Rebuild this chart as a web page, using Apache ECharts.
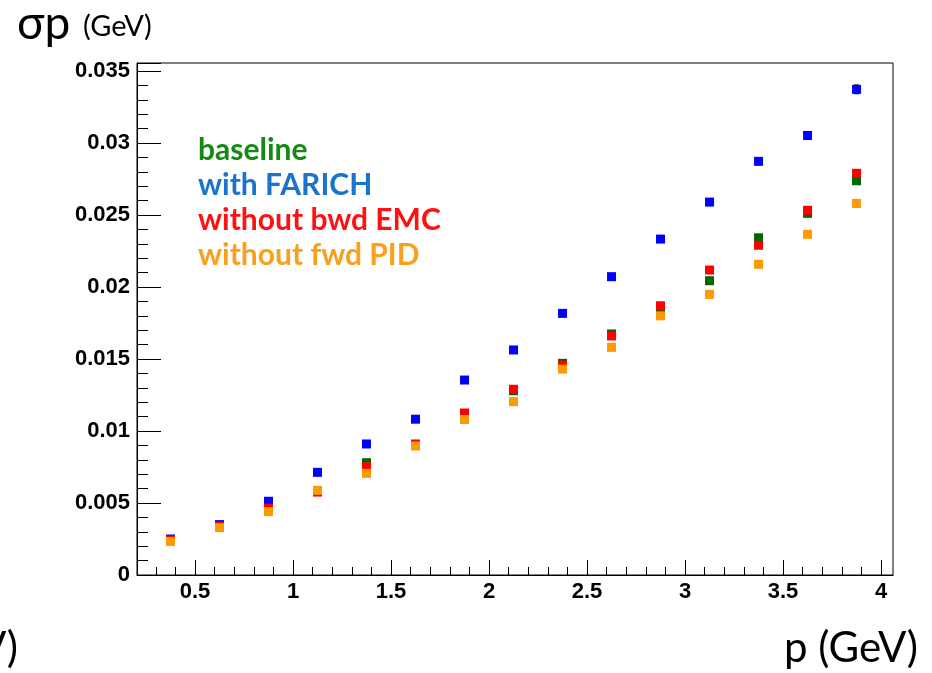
<!DOCTYPE html>
<html>
<head>
<meta charset="utf-8">
<title>Momentum resolution</title>
<script src="https://cdn.jsdelivr.net/npm/echarts@6/dist/echarts.min.js"></script>
<style>
  html, body { margin: 0; padding: 0; background: #fff; }
  #chart { width: 932px; height: 673px; }
</style>
</head>
<body>
<div id="chart"></div>
<script>
// Bin centres of the momentum bins (GeV)
const pMomentum = [0.375, 0.625, 0.875, 1.125, 1.375, 1.625, 1.875, 2.125,
                   2.375, 2.625, 2.875, 3.125, 3.375, 3.625, 3.875];

// Momentum resolution sigma_p (GeV) for each detector configuration
const baseline = [0.0024, 0.0034, 0.0045, 0.0058, 0.0078, 0.0090, 0.0111, 0.0128,
                  0.0147, 0.01674, 0.0184, 0.02044, 0.02342, 0.02512, 0.02738];
const withFarich = [0.0025, 0.0035, 0.00512, 0.00713, 0.0091, 0.01082, 0.01354, 0.01563,
                    0.01817, 0.02072, 0.02333, 0.0259, 0.02873, 0.03053, 0.03373];
const withoutBwdEmc = [0.00243, 0.0034, 0.00465, 0.00576, 0.00752, 0.0091, 0.01125, 0.0129,
                       0.01458, 0.0166, 0.0187, 0.02118, 0.0229, 0.02533, 0.0279];
const withoutFwdPid = [0.00233, 0.00329, 0.0044, 0.00588, 0.00706, 0.00896, 0.0108, 0.01204,
                       0.0143, 0.01581, 0.018, 0.01949, 0.02158, 0.02366, 0.02581];

// Statistical uncertainties on sigma_p (GeV)
const errBaseline = [0.00004, 0.00005, 0.00006, 0.00007, 0.00008, 0.00009, 0.0001, 0.00011,
                     0.00012, 0.00014, 0.00016, 0.00018, 0.0002, 0.00022, 0.00025];
const errFarich = [0.00004, 0.00005, 0.00006, 0.00007, 0.00009, 0.0001, 0.00011, 0.00012,
                   0.00014, 0.00016, 0.00018, 0.0002, 0.00022, 0.00026, 0.0003];
const errBwdEmc = [0.00004, 0.00005, 0.00006, 0.00007, 0.00008, 0.00009, 0.0001, 0.00011,
                   0.00012, 0.00014, 0.00016, 0.00018, 0.0002, 0.00022, 0.00025];
const errFwdPid = [0.00004, 0.00005, 0.00006, 0.00007, 0.00008, 0.00009, 0.0001, 0.00011,
                   0.00012, 0.00013, 0.00015, 0.00017, 0.00019, 0.00021, 0.00024];

const seriesNames = ['baseline', 'with FARICH', 'without bwd EMC', 'without fwd PID'];

// Axis tick positions
const xMajorTicks = [0.5, 1, 1.5, 2, 2.5, 3, 3.5, 4];
const xMinorTicks = [0.3, 0.4, 0.6, 0.7, 0.8, 0.9, 1.1, 1.2, 1.3, 1.4, 1.6, 1.7, 1.8, 1.9,
                     2.1, 2.2, 2.3, 2.4, 2.6, 2.7, 2.8, 2.9, 3.1, 3.2, 3.3, 3.4,
                     3.6, 3.7, 3.8, 3.9];

const markerColors = ['#006600', '#0000ff', '#ff0000', '#ff9900'];
const legendColors = ['#148a14', '#1874cd', '#ff1111', '#f7a11c'];

const allValues = [baseline, withFarich, withoutBwdEmc, withoutFwdPid];
const allErrors = [errBaseline, errFarich, errBwdEmc, errFwdPid];

const X_MIN = 0.204, X_MAX = 4.061;
const Y_MAX = 0.03556;

const chart = echarts.init(document.getElementById('chart'), null, { renderer: 'canvas' });

function errorBarSeries(values, errors, idx) {
  return {
    type: 'custom',
    name: seriesNames[idx] + ' err',
    xAxisIndex: 0,
    yAxisIndex: 0,
    z: 2,
    silent: true,
    data: pMomentum.map((p, i) => [p, values[i] - errors[i], values[i] + errors[i]]),
    renderItem: function (params, api) {
      const lo = api.coord([api.value(0), api.value(1)]);
      const hi = api.coord([api.value(0), api.value(2)]);
      const cap = 2.5;
      const style = { stroke: '#000', lineWidth: 1.2 };
      return {
        type: 'group',
        children: [
          { type: 'line', shape: { x1: lo[0], y1: lo[1], x2: hi[0], y2: hi[1] }, style: style },
          { type: 'line', shape: { x1: lo[0] - cap, y1: lo[1], x2: lo[0] + cap, y2: lo[1] }, style: style },
          { type: 'line', shape: { x1: hi[0] - cap, y1: hi[1], x2: hi[0] + cap, y2: hi[1] }, style: style }
        ]
      };
    }
  };
}

const series = [];
allValues.forEach((vals, k) => {
  series.push(errorBarSeries(vals, allErrors[k], k));
});
allValues.forEach((vals, k) => {
  series.push({
    type: 'scatter',
    name: seriesNames[k],
    xAxisIndex: 0,
    yAxisIndex: 0,
    z: 3 + k,
    symbol: 'rect',
    symbolSize: 9,
    itemStyle: { color: markerColors[k], opacity: 1 },
    emphasis: { disabled: true },
    data: pMomentum.map((p, i) => [p, vals[i]])
  });
});

const labelFont = {
  color: '#000',
  fontFamily: 'Liberation Sans, Arial, sans-serif',
  fontWeight: 'bold',
  fontSize: 22
};

const legendTexts = seriesNames.map((name, k) => ({
  type: 'text',
  left: 198,
  top: 135 + k * 35,
  style: {
    text: name,
    fill: legendColors[k],
    font: 'bold 30px Lato, "Open Sans", sans-serif'
  }
}));

const option = {
  animation: false,
  backgroundColor: '#ffffff',
  grid: {
    left: 137, right: 39, top: 63, bottom: 98,
    show: true,
    borderColor: '#000',
    borderWidth: 1,
    backgroundColor: 'transparent'
  },
  xAxis: [
    {
      type: 'value',
      min: X_MIN, max: X_MAX,
      position: 'bottom',
      axisLine: { show: true, onZero: false, lineStyle: { color: '#000', width: 1 } },
      axisTick: { show: true, inside: true, length: 15, customValues: xMajorTicks,
                  lineStyle: { color: '#000', width: 1 } },
      axisLabel: Object.assign({ show: true, margin: 6, customValues: xMajorTicks,
                  formatter: v => String(+v.toFixed(2)) }, labelFont),
      splitLine: { show: false }
    },
    {
      type: 'value',
      min: X_MIN, max: X_MAX,
      position: 'bottom',
      axisLine: { show: false },
      axisTick: { show: true, inside: true, length: 8, customValues: xMinorTicks,
                  lineStyle: { color: '#000', width: 1 } },
      axisLabel: { show: false },
      splitLine: { show: false }
    }
  ],
  yAxis: {
    type: 'value',
    min: 0, max: Y_MAX,
    interval: 0.005,
    axisLine: { show: true, lineStyle: { color: '#000', width: 1 } },
    axisTick: { show: true, inside: true, length: 24, lineStyle: { color: '#000', width: 1 } },
    minorTick: { show: true, splitNumber: 5, length: 11, lineStyle: { color: '#000', width: 1 } },
    axisLabel: Object.assign({ margin: 7, showMaxLabel: false,
                formatter: v => (v === 0 ? '0' : String(+v.toFixed(4))) }, labelFont),
    splitLine: { show: false },
    minorSplitLine: { show: false }
  },
  graphic: [
    {
      type: 'text',
      left: 17,
      top: 1,
      style: {
        text: 'σp',
        fill: '#000',
        font: '46px Lato, "Open Sans", sans-serif'
      }
    },
    {
      type: 'text',
      left: 83,
      top: 12,
      style: {
        text: '(GeV)',
        fill: '#000',
        font: '29px Lato, "Open Sans", sans-serif'
      }
    },
    {
      type: 'text',
      right: 14,
      top: 627,
      style: {
        text: 'p (GeV)',
        fill: '#000',
        font: '42px Lato, "Open Sans", sans-serif'
      }
    },
    {
      type: 'text',
      x: 18,
      y: 627,
      style: {
        text: '(GeV)',
        align: 'right',
        fill: '#000',
        font: '42px Lato, "Open Sans", sans-serif'
      }
    }
  ].concat(legendTexts),
  series: series
};

chart.setOption(option);
</script>
</body>
</html>
